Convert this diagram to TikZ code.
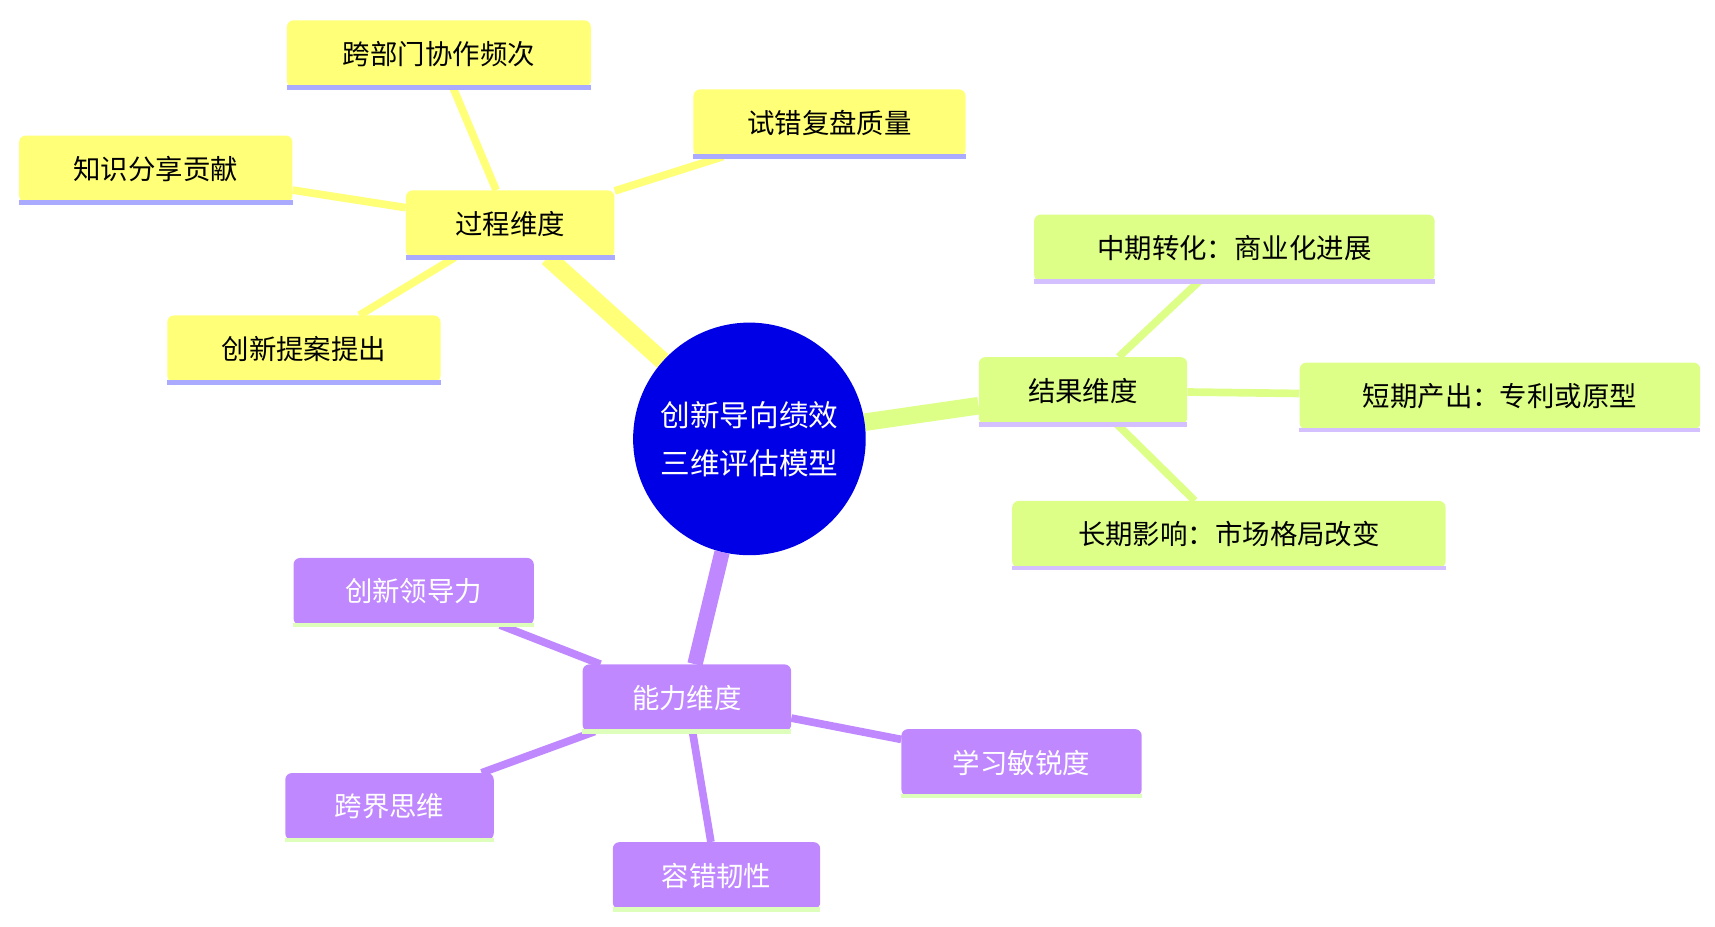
\documentclass[tikz,border=0pt]{standalone}
\usepackage{fontspec}
\setmainfont{Noto Sans CJK SC}
\usetikzlibrary{backgrounds}
\definecolor{yel}{HTML}{FFFF78}
\definecolor{yelb}{HTML}{AAAAFF}
\definecolor{grn}{HTML}{DDFF88}
\definecolor{grnb}{HTML}{D4BFFF}
\definecolor{pur}{HTML}{C088FF}
\definecolor{purb}{HTML}{DDFFBB}
\definecolor{core}{HTML}{0000E6}
\begin{document}
\begin{tikzpicture}[x=1pt,y=-1pt,
  box/.style={rounded corners=6pt,minimum height=61pt,inner sep=0pt,font=\fontsize{25}{30}\selectfont},
  yb/.style={box,fill=yel,text=black},
  gb/.style={box,fill=grn,text=black},
  pb/.style={box,fill=pur,text=white},
  ye/.style={draw=yel,line width=7pt},
  ge/.style={draw=grn,line width=7pt},
  pe/.style={draw=pur,line width=7pt}]
\useasboundingbox (0,0) rectangle (1563,844);
\node[circle,fill=core,minimum size=212pt,inner sep=0pt,text=white,align=center,font=\fontsize{27}{44}\selectfont] (c) at (683,400) {创新导向绩效\\三维评估模型};
\node[yb,minimum width=190pt] (p) at (465,204) {过程维度};
\node[yb,minimum width=277pt] (p1) at (400,49) {跨部门协作频次};
\node[yb,minimum width=248pt] (p2) at (756,112) {试错复盘质量};
\node[yb,minimum width=249pt] (p3) at (142,154) {知识分享贡献};
\node[yb,minimum width=249pt] (p4) at (277,318) {创新提案提出};
\node[gb,minimum width=190pt] (r) at (987,356) {结果维度};
\node[gb,minimum width=365pt] (r1) at (1125,226) {中期转化：商业化进展};
\node[gb,minimum width=365pt] (r2) at (1367,361) {短期产出：专利或原型};
\node[gb,minimum width=395pt] (r3) at (1120,487) {长期影响：市场格局改变};
\node[pb,minimum width=190pt] (a) at (626,636) {能力维度};
\node[pb,minimum width=219pt] (a1) at (377,539) {创新领导力};
\node[pb,minimum width=219pt] (a2) at (931,695) {学习敏锐度};
\node[pb,minimum width=190pt] (a3) at (355,735) {跨界思维};
\node[pb,minimum width=189pt] (a4) at (653,798) {容错韧性};
\foreach \n in {p,p1,p2,p3,p4} \draw[yelb,line width=4pt] (\n.south west) -- (\n.south east);
\foreach \n in {r,r1,r2,r3} \draw[grnb,line width=4pt] (\n.south west) -- (\n.south east);
\foreach \n in {a,a1,a2,a3,a4} \draw[purb,line width=4pt] (\n.south west) -- (\n.south east);
\begin{pgfonlayer}{background}
\draw[draw=yel,line width=16pt] (c) -- (p);
\draw[draw=grn,line width=16pt] (c) -- (r);
\draw[draw=pur,line width=14pt] (c) -- (a);
\draw[ye] (p) -- (p1); \draw[ye] (p) -- (p2); \draw[ye] (p) -- (p3); \draw[ye] (p) -- (p4);
\draw[ge] (r) -- (r1); \draw[ge] (r) -- (r2); \draw[ge] (r) -- (r3);
\draw[pe] (a) -- (a1); \draw[pe] (a) -- (a2); \draw[pe] (a) -- (a3); \draw[pe] (a) -- (a4);
\end{pgfonlayer}
\end{tikzpicture}
\end{document}
